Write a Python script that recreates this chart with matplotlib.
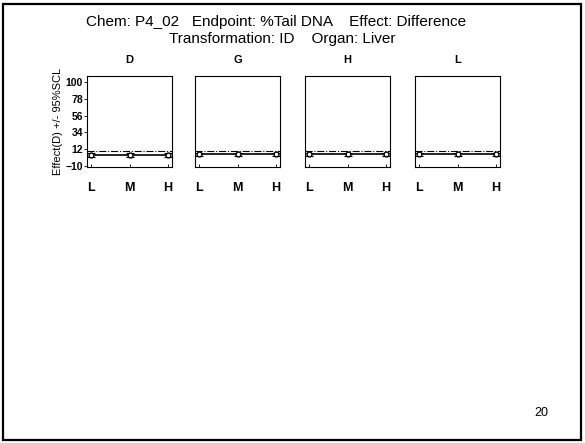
import numpy as np
import matplotlib
matplotlib.use("Agg")
import matplotlib.pyplot as plt
from matplotlib.patches import Rectangle

plt.rcParams['font.family'] = ['Liberation Sans', 'DejaVu Sans']

# data
panels = ['D', 'G', 'H', 'L']
doses = ['L', 'M', 'H']
effect = {
    'D': [4.5, 4.5, 4.5],
    'G': [5.0, 5.0, 5.0],
    'H': [5.0, 5.0, 5.0],
    'L': [5.0, 5.0, 5.0],
}
ci_half = {
    'D': [2.5, 2.5, 2.5],
    'G': [1.5, 1.5, 1.5],
    'H': [1.5, 1.5, 1.5],
    'L': [1.5, 1.5, 1.5],
}
ref_line = 9.0
y_ticks = [-10, 12, 34, 56, 78, 100]

title1 = "Chem: P4_02   Endpoint: %Tail DNA    Effect: Difference"
title2 = "Transformation: ID    Organ: Liver"
page_no = "20"

fig = plt.figure(figsize=(5.85, 4.43), dpi=100)
W, H = 585, 443

# page frame
fig.patches.append(Rectangle((3 / W, 3 / H), 578 / W, 436 / H, transform=fig.transFigure,
                             fill=False, edgecolor='black', linewidth=1.6))

fig.text(276 / W, 1 - 22 / H, title1, ha='center', va='center', fontsize=11)
fig.text(282 / W, 1 - 39 / H, title2, ha='center', va='center', fontsize=11)
fig.text(541 / W, 1 - 413 / H, page_no, ha='center', va='center', fontsize=9)

lefts = [87, 195, 305, 415]
x = np.arange(len(doses))
for i, (name, left) in enumerate(zip(panels, lefts)):
    ax = fig.add_axes([left / W, 1 - 167 / H, 85 / W, 91 / H])
    ax.plot(x, effect[name], color='black', linewidth=1.2, zorder=3)
    ax.errorbar(x, effect[name], yerr=ci_half[name], fmt='o', color='black',
                markerfacecolor='white', markersize=3.5, capsize=3, elinewidth=0.8,
                capthick=0.8, zorder=4)
    ax.axhline(ref_line, color='black', linestyle='-.', linewidth=0.8)
    ax.set_xlim(-0.1, 2.1)
    ax.set_ylim(-11.5, 108)
    ax.set_xticks(x)
    ax.set_xticklabels(doses, fontsize=9, fontweight='bold')
    ax.tick_params(axis='x', direction='in', length=2, pad=11, width=0.6)
    ax.set_yticks(y_ticks)
    if i == 0:
        ax.set_yticklabels([str(t).replace('-', '\u2212') for t in y_ticks],
                           fontsize=7.5, fontweight='bold')
        ax.tick_params(axis='y', direction='out', length=2, pad=1, width=0.6)
        ax.set_ylabel("Effect(D) +/- 95%SCL", fontsize=8, labelpad=2)
    else:
        ax.tick_params(axis='y', length=0, labelleft=False)
    for sp in ax.spines.values():
        sp.set_linewidth(0.8)
    ax.set_title(name, fontsize=8, pad=9, fontweight='bold')

fig.savefig("out.png", dpi=100)
